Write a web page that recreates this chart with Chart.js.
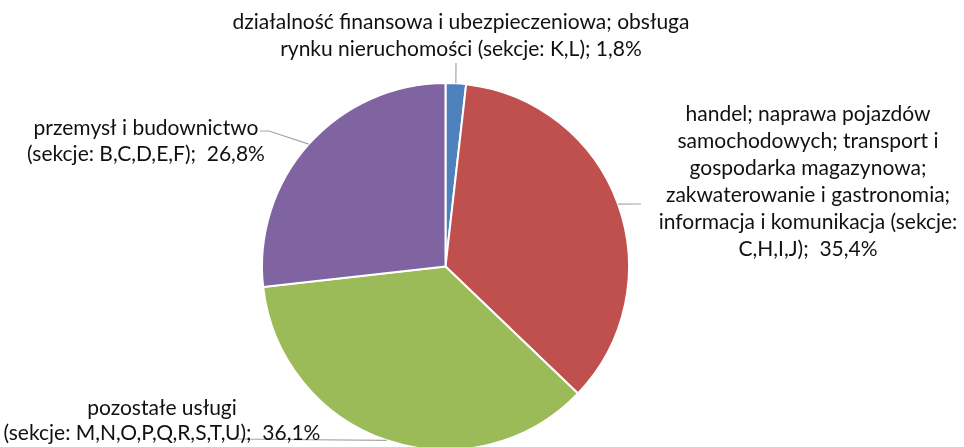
<!DOCTYPE html>
<html>
<head>
<meta charset="utf-8">
<script src="https://cdn.jsdelivr.net/npm/chart.js@4"></script>
<style>
  html, body { margin: 0; padding: 0; background: #fff; }
  #wrap { width: 964px; height: 447px; position: relative; }
</style>
</head>
<body>
<div id="wrap"><canvas id="c" width="964" height="447"></canvas></div>
<script>
// ---- data ----
const categories = [
  ["działalność finansowa i ubezpieczeniowa; obsługa", "rynku nieruchomości (sekcje: K,L);"],
  ["handel; naprawa pojazdów", "samochodowych; transport i", "gospodarka magazynowa;", "zakwaterowanie i gastronomia;", "informacja i komunikacja (sekcje:", "C,H,I,J); "],
  ["pozostałe usługi", "(sekcje: M,N,O,P,Q,R,S,T,U); "],
  ["przemysł i budownictwo", "(sekcje: B,C,D,E,F); "]
];
const shares = [1.8, 35.4, 36.1, 26.8];
const colors = ["#4F81BD", "#C0504D", "#9BBB59", "#8064A2"];

function fmtPct(v) { return v.toFixed(1).replace('.', ',') + '%'; }
function labelLines(i) {
  const lines = categories[i].slice();
  lines[lines.length - 1] = lines[lines.length - 1] + ' ' + fmtPct(shares[i]);
  return lines;
}

// label placement (layout only)
const labelLayout = [
  { cx: 461, y0: 22, lh: 27, leader: [[456, 63]] },
  { cx: 808, y0: 114, lh: 27, leader: [[641, 204]] },
  { cx: 162, y0: 408, lh: 25, leader: [[230, 439]] },
  { cx: 146, y0: 128, lh: 26, leader: [[269, 131], [260, 131]] }
];

const labelPlugin = {
  id: 'pieLabels',
  afterDatasetsDraw(chart) {
    const ctx = chart.ctx;
    const meta = chart.getDatasetMeta(0);
    ctx.save();
    meta.data.forEach((arc, i) => {
      const p = arc.getProps(['x', 'y', 'startAngle', 'endAngle', 'outerRadius'], true);
      const mid = (p.startAngle + p.endAngle) / 2;
      const ex = p.x + Math.cos(mid) * p.outerRadius;
      const ey = p.y + Math.sin(mid) * p.outerRadius;
      const L = labelLayout[i];
      ctx.strokeStyle = '#A6A6A6';
      ctx.lineWidth = 1.2;
      ctx.beginPath();
      ctx.moveTo(ex, ey);
      L.leader.forEach(pt => ctx.lineTo(pt[0], pt[1]));
      ctx.stroke();
      ctx.fillStyle = '#111';
      ctx.font = '21px Lato';
      ctx.textAlign = 'center';
      ctx.textBaseline = 'middle';
      labelLines(i).forEach((t, k) => ctx.fillText(t, L.cx, L.y0 + k * L.lh));
    });
    ctx.restore();
  }
};

new Chart(document.getElementById('c'), {
  type: 'pie',
  data: {
    labels: categories.map(c => c.join(' ')),
    datasets: [{
      data: shares,
      backgroundColor: colors,
      borderColor: '#ffffff',
      borderWidth: 2,
      clip: false
    }]
  },
  options: {
    responsive: false,
    animation: false,
    events: [],
    radius: 183.5,
    layout: { padding: { left: 0, right: 73, top: 86, bottom: 0 } },
    plugins: { legend: { display: false }, tooltip: { enabled: false } }
  },
  plugins: [labelPlugin]
});
</script>
</body>
</html>
